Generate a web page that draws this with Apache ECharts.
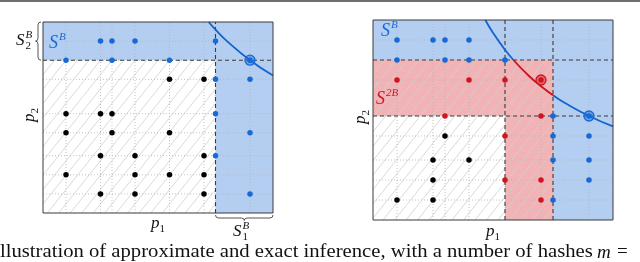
<!DOCTYPE html>
<html><head><meta charset="utf-8">
<script src="https://cdn.jsdelivr.net/npm/echarts@6/dist/echarts.min.js"></script>
<style>html,body{margin:0;padding:0;background:#fff}#c{width:640px;height:262px}</style>
</head><body><div id="c"></div>
<script>
// ---- data ----
const xGrid = [0.1, 0.25, 0.3, 0.4, 0.55, 0.7, 0.75, 0.9];
const yGrid = [0.1, 0.2, 0.3, 0.42, 0.52, 0.7, 0.8, 0.9];

// left panel
const leftBlack = [[0.55,0.7],[0.7,0.7],[0.1,0.52],[0.25,0.52],[0.3,0.52],[0.1,0.42],[0.3,0.42],[0.55,0.42],
  [0.25,0.3],[0.4,0.3],[0.7,0.3],[0.1,0.2],[0.4,0.2],[0.55,0.2],[0.7,0.2],[0.25,0.1],[0.4,0.1],[0.7,0.1]];
const leftBlue = [[0.25,0.9],[0.3,0.9],[0.4,0.9],[0.75,0.9],[0.1,0.8],[0.3,0.8],[0.55,0.8],[0.75,0.7],[0.9,0.7],
  [0.75,0.52],[0.9,0.42],[0.75,0.3],[0.9,0.1]];
const leftBigBlue = [[0.9,0.8]];
const leftCurve = [[0.72,1.0],[0.75,0.96],[0.8,0.9],[0.9,0.8],[1.0,0.72]];
const leftDashX = [0.75];
const leftDashY = [0.8];
const leftBlueRegions = [[0,0.8,1,1],[0.75,0,1,0.8]];
const leftHatch = [[0,0,0.75,0.8]];

// right panel
const rightBlack = [[0.3,0.42],[0.25,0.3],[0.4,0.3],[0.25,0.2],[0.1,0.1],[0.25,0.1]];
const rightRed = [[0.1,0.7],[0.4,0.7],[0.55,0.7],[0.3,0.52],[0.7,0.52],[0.55,0.42],[0.55,0.2],[0.7,0.2],[0.7,0.1]];
const rightBlue = [[0.1,0.9],[0.25,0.9],[0.3,0.9],[0.4,0.9],[0.1,0.8],[0.3,0.8],[0.4,0.8],[0.55,0.8],
  [0.75,0.52],[0.75,0.42],[0.9,0.42],[0.75,0.3],[0.9,0.3],[0.9,0.2],[0.75,0.1]];
const rightBigBlue = [[0.9,0.52]];
const rightBigRed = [[0.7,0.7]];
const rightCurveBlueA = [[0.468,1.0],[0.5,0.936],[0.55,0.851],[0.585,0.8]];
const rightCurveRed = [[0.585,0.8],[0.65,0.72],[0.7,0.669],[0.75,0.624]];
const rightCurveBlueB = [[0.75,0.624],[0.8,0.585],[0.9,0.52],[1.0,0.468]];
const rightDashX = [0.55, 0.75];
const rightDashY = [0.52, 0.8];
const rightBlueRegions = [[0,0.8,1,1],[0.75,0,1,0.8]];
const rightRedRegions = [[0,0.52,0.75,0.8],[0.55,0,0.75,0.52]];
const rightHatch = [[0,0,0.75,0.8]];

const caption = 'llustration of approximate and exact inference, with a number of hashes';

// ---- styles ----
const C = {
  blueFill:'#b3cef0', redFill:'#f2b3b6', blue:'#1769d6', red:'#d01520',
  blueCurve:'#1464cc', redCurve:'#c8141e', grid:'#b4b4b4', dash:'#3c3c3c', border:'#3a3a3a', hatch:'#cfcfcf'
};

function regionSeries(g, rects, color){
  return {type:'custom', xAxisIndex:g, yAxisIndex:g, z:1, silent:true, data:rects,
    renderItem:(p, api)=>{
      const a = api.coord([api.value(0), api.value(1)]);
      const b = api.coord([api.value(2), api.value(3)]);
      return {type:'rect', shape:{x:a[0], y:b[1], width:b[0]-a[0], height:a[1]-b[1]}, style:{fill:color}};
    }};
}
function hatchSeries(g, rects){
  return {type:'custom', xAxisIndex:g, yAxisIndex:g, z:2, silent:true, data:rects,
    renderItem:(p, api)=>{
      const a = api.coord([api.value(0), api.value(1)]);
      const b = api.coord([api.value(2), api.value(3)]);
      const L=a[0], R=b[0], T=b[1], B=a[1];
      const k = 1.25, step = 11.5;
      const span = (B-T)/k;
      const children = [];
      for (let c = L - span; c <= R; c += step){
        const x0 = Math.max(L, c), x1 = Math.min(R, c + span);
        if (x1 <= x0) continue;
        children.push({type:'line', shape:{x1:x0, y1:B - k*(x0-c), x2:x1, y2:B - k*(x1-c)},
          style:{stroke:C.hatch, lineWidth:0.8}});
      }
      return {type:'group', children};
    }};
}
function vLines(g, xs, style, z){
  return {type:'custom', xAxisIndex:g, yAxisIndex:g, z, silent:true, data:xs.map(v=>[v, 0]),
    renderItem:(p, api)=>{
      const a = api.coord([api.value(0), 0]), b = api.coord([api.value(0), 1]);
      return {type:'line', shape:{x1:a[0], y1:a[1], x2:b[0], y2:b[1]}, style};
    }};
}
function hLines(g, ys, style, z){
  return {type:'custom', xAxisIndex:g, yAxisIndex:g, z, silent:true, data:ys.map(v=>[0, v]),
    renderItem:(p, api)=>{
      const a = api.coord([0, api.value(1)]), b = api.coord([1, api.value(1)]);
      return {type:'line', shape:{x1:a[0], y1:a[1], x2:b[0], y2:b[1]}, style};
    }};
}
function borderSeries(g){
  return {type:'custom', xAxisIndex:g, yAxisIndex:g, z:20, silent:true, data:[[0,0,1,1]],
    renderItem:(p, api)=>{
      const a = api.coord([0,0]), b = api.coord([1,1]);
      return {type:'rect', shape:{x:a[0], y:b[1], width:b[0]-a[0], height:a[1]-b[1]},
        style:{fill:'none', stroke:C.border, lineWidth:1}};
    }};
}
function braceSeries(){
  return {type:'custom', xAxisIndex:0, yAxisIndex:0, z:20, silent:true, data:[[0,0]], clip:false,
    renderItem:(p, api)=>{
      const t = api.coord([0,1]), m = api.coord([0,0.8]);
      const x = t[0]-5, y0 = t[1], y1 = m[1], ym = (y0+y1)/2;
      const d1 = `M${x+3} ${y0} Q${x} ${y0} ${x} ${y0+3} L${x} ${ym-3} Q${x} ${ym} ${x-2.5} ${ym} Q${x} ${ym} ${x} ${ym+3} L${x} ${y1-3} Q${x} ${y1} ${x+3} ${y1}`;
      const l = api.coord([0.75,0]), r = api.coord([1,0]);
      const y = l[1]+5, x0 = l[0], x1 = r[0], xm = (x0+x1)/2;
      const d2 = `M${x0} ${y-3} Q${x0} ${y} ${x0+3} ${y} L${xm-3} ${y} Q${xm} ${y} ${xm} ${y+2.5} Q${xm} ${y} ${xm+3} ${y} L${x1-3} ${y} Q${x1} ${y} ${x1} ${y-3}`;
      return {type:'group', children:[
        {type:'path', shape:{pathData:d1}, style:{fill:null, stroke:'#555', lineWidth:1}},
        {type:'path', shape:{pathData:d2}, style:{fill:null, stroke:'#555', lineWidth:1}}
      ]};
    }};
}
function curve(g, data, color){
  return {type:'line', xAxisIndex:g, yAxisIndex:g, z:8, data, smooth:true, showSymbol:false, silent:true,
    lineStyle:{color, width:1.8}};
}
function dots(g, data, color, z){
  return {type:'scatter', xAxisIndex:g, yAxisIndex:g, z:z||10, data, symbolSize:5.5, silent:true,
    itemStyle:{color, opacity:1}};
}
function ring(g, data, color, rgba){
  return {type:'scatter', xAxisIndex:g, yAxisIndex:g, z:11, data, symbolSize:10, silent:true,
    itemStyle:{color:rgba, borderColor:color, borderWidth:1.3, opacity:1}};
}
const gridStyle = {stroke:C.grid, lineWidth:0.8, lineDash:[1,2]};
const dashStyle = {stroke:C.dash, lineWidth:1.1, lineDash:[4,3]};

// ---- math label helper ----
const MF = '"Liberation Serif", "DejaVu Serif", serif';
function mathLabel(x, y, base, sup, sub, color, rot, size){
  const fs = size || 17;
  const ch = [{type:'text', x:0, y:0, z:100, style:{text:base, font:'italic '+fs+'px '+MF, fill:color, textVerticalAlign:'middle'}}];
  const w = base === 'S' ? fs*0.56 : 8.5;
  if (sup) ch.push({type:'text', x:w, y:-6, z:100, style:{text:sup, font:'italic 11px '+MF, fill:color, textVerticalAlign:'middle'}});
  if (sub) ch.push({type:'text', x:w, y:5, z:100, style:{text:sub, font:'11px '+MF, fill:color, textVerticalAlign:'middle'}});
  return {type:'group', x, y, rotation:rot||0, children:ch, z:100, zlevel:1};
}

const chart = echarts.init(document.getElementById('c'), null, {renderer:'canvas'});
const option = {
  animation:false,
  backgroundColor:'#fff',
  grid:[{left:43, top:22, width:230, height:191}, {left:373, top:20, width:240, height:200}],
  xAxis:[0,1].map(i=>({gridIndex:i, type:'value', min:0, max:1, show:false})),
  yAxis:[0,1].map(i=>({gridIndex:i, type:'value', min:0, max:1, show:false})),
  series:[
    regionSeries(0, leftBlueRegions, C.blueFill),
    hatchSeries(0, leftHatch),
    vLines(0, xGrid, gridStyle, 3), hLines(0, yGrid, gridStyle, 3),
    vLines(0, leftDashX, dashStyle, 5), hLines(0, leftDashY, dashStyle, 5),
    curve(0, leftCurve, C.blueCurve),
    dots(0, leftBlack, '#000'), dots(0, leftBlue, C.blue),
    ring(0, leftBigBlue, C.blue, 'rgba(23,105,214,0.45)'), dots(0, leftBigBlue, C.blue, 12),
    borderSeries(0),
    braceSeries(),
    regionSeries(1, rightBlueRegions, C.blueFill),
    regionSeries(1, rightRedRegions, C.redFill),
    hatchSeries(1, rightHatch),
    vLines(1, xGrid, gridStyle, 3), hLines(1, yGrid, gridStyle, 3),
    vLines(1, rightDashX, dashStyle, 5), hLines(1, rightDashY, dashStyle, 5),
    curve(1, rightCurveBlueA, C.blueCurve), curve(1, rightCurveRed, C.redCurve), curve(1, rightCurveBlueB, C.blueCurve),
    dots(1, rightBlack, '#000'), dots(1, rightRed, C.red), dots(1, rightBlue, C.blue),
    ring(1, rightBigBlue, C.blue, 'rgba(23,105,214,0.45)'), dots(1, rightBigBlue, C.blue, 12),
    ring(1, rightBigRed, C.red, 'rgba(208,21,32,0.45)'), dots(1, rightBigRed, C.red, 12),
    borderSeries(1)
  ],
  graphic:[
    {type:'rect', shape:{x:0, y:0, width:640, height:2}, style:{fill:'#6e6e6e'}, z:100, zlevel:1},
    mathLabel(16, 41, 'S', 'B', '2', '#111'),
    mathLabel(233, 232, 'S', 'B', '1', '#111'),
    mathLabel(49, 43, 'S', 'B', null, C.blue, 0, 18),
    mathLabel(30, 122, 'p', null, '2', '#111', Math.PI/2),
    mathLabel(151, 224, 'p', null, '1', '#111'),
    mathLabel(381, 31, 'S', 'B', null, C.blue, 0, 18),
    mathLabel(376, 99, 'S', '2B', null, C.red, 0, 18),
    mathLabel(361, 124, 'p', null, '2', '#111', Math.PI/2),
    mathLabel(486, 232, 'p', null, '1', '#111'),
    {type:'group', x:0, y:252.5, scaleX:1.117, z:100, zlevel:1, children:[
      {type:'text', x:0, y:0, z:100, style:{text:caption, font:'18.5px '+MF, fill:'#111', textVerticalAlign:'middle'}}
    ]},
    {type:'text', x:597, y:252.5, z:100, zlevel:1, style:{text:'m', font:'italic 19px '+MF, fill:'#111', textVerticalAlign:'middle'}},
    {type:'text', x:617, y:252.5, z:100, zlevel:1, style:{text:'=', font:'19px '+MF, fill:'#111', textVerticalAlign:'middle'}}
  ]
};
chart.setOption(option);
</script></body></html>
